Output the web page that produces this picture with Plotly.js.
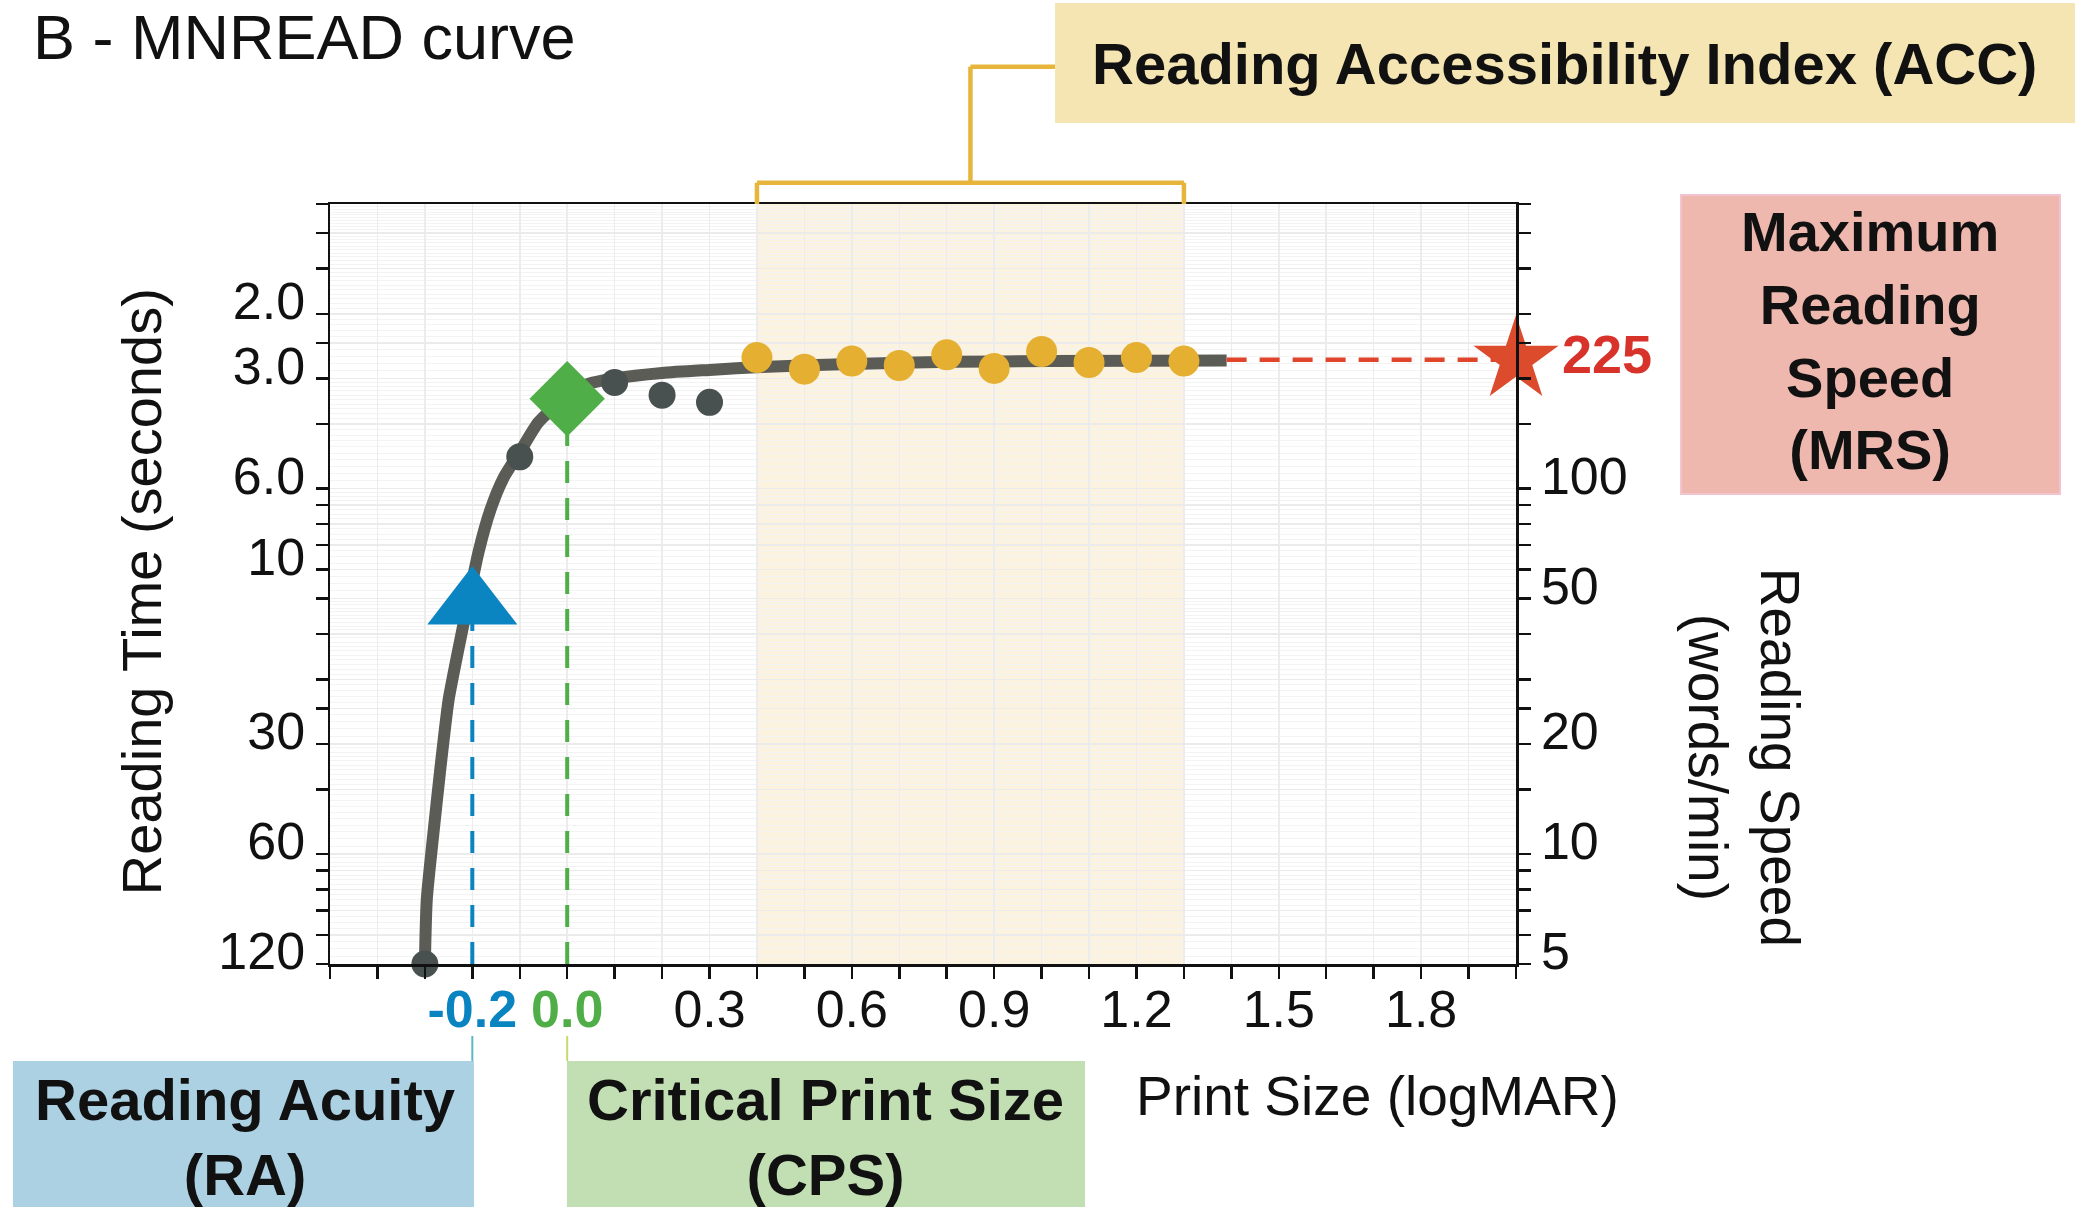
<!DOCTYPE html>
<html>
<head>
<meta charset="utf-8">
<script src="https://cdn.plot.ly/plotly-3.0.1.min.js"></script>
<style>
  html, body { margin: 0; padding: 0; background: #ffffff; }
  #chart { width: 2075px; height: 1209px; }
</style>
</head>
<body>
<div id="chart"></div>
<script>
// ---------------- DATA ----------------
// Fitted MNREAD curve (print size logMAR vs reading speed, words/min)
const curveX = [-0.30, -0.296, -0.282, -0.267, -0.25, -0.234, -0.219, -0.187, -0.162, -0.134, -0.098, -0.062, -0.028, 0.0, 0.043, 0.10, 0.20, 0.30, 0.41, 0.60, 0.81, 1.02, 1.39];
const curveSpeed = [5.0, 7.5, 11.4, 17.3, 26.4, 33.9, 42.3, 66.9, 87.3, 107, 127, 151, 167, 181, 193, 200, 207, 211, 215, 219, 222, 223, 224];

// Measured sentences outside the ACC range
const testX = [-0.3, -0.1, 0.1, 0.2, 0.3];
const testSpeed = [5.0, 122, 195, 180, 172];

// Sentences used for the Reading Accessibility Index (ACC)
const accX = [0.4, 0.5, 0.6, 0.7, 0.8, 0.9, 1.0, 1.1, 1.2, 1.3];
const accSpeed = [228, 212, 223, 217, 232, 213, 237, 221, 228, 223];

// Key parameters
const raX = -0.2;   const raSpeed = 48;    // Reading Acuity
const cpsX = 0.0;   const cpsSpeed = 176;  // Critical Print Size
const mrsX = 2.0;   const mrsSpeed = 225;  // Maximum Reading Speed
const mrsLabel = '225';

// Axis ticks
const xTickVals = [-0.5, -0.4, -0.3, -0.2, -0.1, 0.0, 0.1, 0.2, 0.3, 0.4, 0.5, 0.6, 0.7, 0.8, 0.9, 1.0, 1.1, 1.2, 1.3, 1.4, 1.5, 1.6, 1.7, 1.8, 1.9, 2.0];
const xLabelVals = [-0.2, 0.0, 0.3, 0.6, 0.9, 1.2, 1.5, 1.8];
const xLabelText = ['-0.2', '0.0', '0.3', '0.6', '0.9', '1.2', '1.5', '1.8'];

const speedTickVals = [600, 500, 400, 300, 250, 200, 150, 100, 90, 80, 70, 60, 50, 40, 30, 25, 20, 15, 10, 9, 8, 7, 6, 5];
const timeLabelSeconds = [2, 3, 6, 10, 30, 60, 120];
const timeLabelText = ['2.0', '3.0', '6.0', '10', '30', '60', '120'];
const speedLabelVals = [100, 50, 20, 10, 5];
const speedRange = [5, 600];
const wordsTimesSixty = 600; // 10 standard words per sentence -> speed = 600 / seconds

// ---------------- BUILD ----------------
const FONT = '"Liberation Sans", Arial, Helvetica, sans-serif';
const near = (a, b) => Math.abs(a - b) < 1e-6;

const xTickText = xTickVals.map(v => {
  const i = xLabelVals.findIndex(l => near(l, v));
  if (i < 0) return '';
  if (near(v, raX)) return '<span style="color:#0a84c0"><b>' + xLabelText[i] + '</b></span>';
  if (near(v, cpsX)) return '<span style="color:#4fae47"><b>' + xLabelText[i] + '</b></span>';
  return xLabelText[i];
});
const timeLabelSpeeds = timeLabelSeconds.map(t => wordsTimesSixty / t);
const leftTickText = speedTickVals.map(v => {
  const i = timeLabelSpeeds.findIndex(s => near(s, v));
  return i < 0 ? '' : timeLabelText[i];
});
const rightTickText = speedTickVals.map(v => speedLabelVals.some(s => near(s, v)) ? String(v) : '');

// faint dense horizontal grid (log-paper look)
const minorVals = [];
[[5, 10, 0.25], [10, 20, 0.5], [20, 50, 1], [50, 100, 2.5], [100, 200, 5], [200, 600, 10]].forEach(([a, b, s]) => {
  for (let v = a; v < b - 1e-9; v += s) minorVals.push(+v.toFixed(3));
});

const yRangeLog = [Math.log10(speedRange[0]) - 1e-6, Math.log10(speedRange[1]) + 1e-6];
const curveEndX = curveX[curveX.length - 1];

const traces = [
  { x: curveX, y: curveSpeed, mode: 'lines', line: { color: '#5c5c56', width: 12, shape: 'spline', smoothing: 0.6 }, hoverinfo: 'skip' },
  { x: [raX, raX], y: [speedRange[0], raSpeed], mode: 'lines', line: { color: '#0a84c0', width: 4, dash: '22px,15px' }, hoverinfo: 'skip' },
  { x: [cpsX, cpsX], y: [speedRange[0], cpsSpeed], mode: 'lines', line: { color: '#4fae47', width: 4, dash: '22px,15px' }, hoverinfo: 'skip' },
  { x: [curveEndX, mrsX], y: [mrsSpeed, mrsSpeed], mode: 'lines', line: { color: '#e0452c', width: 4.5, dash: '20px,13px' }, hoverinfo: 'skip' },
  { x: testX, y: testSpeed, mode: 'markers', marker: { color: '#495150', size: 27 }, cliponaxis: false },
  { x: accX, y: accSpeed, mode: 'markers', marker: { color: '#e5b032', size: 31 }, cliponaxis: false },
  { x: [cpsX], y: [cpsSpeed], mode: 'markers', marker: { color: '#4fae47', size: 58, symbol: 'diamond' }, cliponaxis: false },
  { x: [raX], y: [raSpeed], mode: 'markers', marker: { color: '#0a85c1', size: 78, symbol: 'triangle-up' }, cliponaxis: false },
  { x: [mrsX], y: [mrsSpeed], yaxis: 'y2', mode: 'markers', marker: { color: '#dd4b2d', size: 64, symbol: 'star' }, cliponaxis: false }
];

// paper helpers
const xToPaper = x => (x + 0.5) / 2.5;
const accMin = Math.min(...accX), accMax = Math.max(...accX);
const accMid = (accMin + accMax) / 2;
const bracketY = 1.028, riserTop = 1.1807;
const GOLD = '#e8b53c';

const shapes = [
  { type: 'rect', xref: 'x', yref: 'paper', x0: accMin, x1: accMax, y0: 0, y1: 1, fillcolor: '#fbf3df', line: { width: 0 }, layer: 'below' },
  // ACC bracket
  { type: 'line', xref: 'x', yref: 'paper', x0: accMin, x1: accMin, y0: 1.0, y1: bracketY, line: { color: GOLD, width: 4.5 } },
  { type: 'line', xref: 'x', yref: 'paper', x0: accMax, x1: accMax, y0: 1.0, y1: bracketY, line: { color: GOLD, width: 4.5 } },
  { type: 'line', xref: 'x', yref: 'paper', x0: accMin, x1: accMax, y0: bracketY, y1: bracketY, line: { color: GOLD, width: 4.5 } },
  { type: 'line', xref: 'x', yref: 'paper', x0: accMid, x1: accMid, y0: bracketY, y1: riserTop, line: { color: GOLD, width: 4.5 } },
  { type: 'line', xref: 'paper', yref: 'paper', x0: xToPaper(accMid), x1: 0.6113, y0: riserTop, y1: riserTop, line: { color: GOLD, width: 4.5 } },
  // label boxes
  { type: 'rect', xref: 'paper', yref: 'paper', x0: 0.6113, x1: 1.4713, y0: 1.1066, y1: 1.2645, fillcolor: '#f4e5b2', line: { width: 0 } },
  { type: 'rect', xref: 'paper', yref: 'paper', x0: 1.1391, x1: 1.4587, y0: 0.6184, y1: 1.0118, fillcolor: '#efb8ae', line: { color: '#f3c3cf', width: 2 } },
  { type: 'rect', xref: 'paper', yref: 'paper', x0: -0.2673, x1: 0.1214, y0: -0.3197, y1: -0.1276, fillcolor: '#acd1e3', line: { width: 0 } },
  { type: 'rect', xref: 'paper', yref: 'paper', x0: 0.1998, x1: 0.6366, y0: -0.3197, y1: -0.1276, fillcolor: '#c2deb3', line: { width: 0 } },
  // connectors to RA / CPS boxes
  { type: 'line', xref: 'x', yref: 'paper', x0: raX, x1: raX, y0: -0.0947, y1: -0.1276, line: { color: '#5db7c9', width: 2 } },
  { type: 'line', xref: 'x', yref: 'paper', x0: cpsX, x1: cpsX, y0: -0.0947, y1: -0.1276, line: { color: '#c3da6e', width: 2 } }
];

const ann = (text, x, y, size, extra) => Object.assign({ text: text, x: x, y: y, xref: 'paper', yref: 'paper', showarrow: false, xanchor: 'center', yanchor: 'middle', font: { family: FONT, size: size, color: '#111111' } }, extra || {});

const annotations = [
  ann('<b>Reading Accessibility Index (ACC)</b>', 1.0413, 1.1855, 58),
  ann('<b>Maximum<br>Reading<br>Speed<br>(MRS)</b>', 1.2985, 0.8204, 56),
  ann('<b>Reading Acuity<br>(RA)</b>', -0.0717, -0.227, 58),
  ann('<b>Critical Print Size<br>(CPS)</b>', 0.4182, -0.227, 58),
  ann('Reading Time (seconds)', -0.1589, 0.490, 56, { textangle: -90 }),
  ann('Reading Speed<br>(words/min)', 1.1918, 0.272, 55, { textangle: 90 }),
  ann('Print Size (logMAR)', 0.8836, -0.1737, 55),
  { text: '<b>' + mrsLabel + '</b>', x: mrsX, y: Math.log10(mrsSpeed), xref: 'x', yref: 'y', showarrow: false, xanchor: 'left', yanchor: 'middle', xshift: 44, yshift: 6, font: { family: FONT, size: 54, color: '#d8332a' } }
];

const layout = {
  width: 2075, height: 1209,
  margin: { l: 330, r: 559, t: 204, b: 245, pad: 0 },
  paper_bgcolor: '#ffffff', plot_bgcolor: '#ffffff',
  showlegend: false,
  font: { family: FONT, size: 52, color: '#111111' },
  title: { text: 'B - MNREAD curve', xref: 'container', yref: 'container', x: 0.0159, xanchor: 'left', y: 0.9694, yanchor: 'middle', font: { family: FONT, size: 63, color: '#111111' } },
  xaxis: {
    range: [-0.5, 2.0], tickmode: 'array', tickvals: xTickVals, ticktext: xTickText,
    ticks: 'outside', ticklen: 12, tickwidth: 2.5, tickcolor: '#111',
    showline: true, linecolor: '#111', linewidth: 2.5, mirror: true,
    showgrid: true, gridcolor: '#ececec', gridwidth: 1.5, zeroline: false,
    ticklabelstandoff: -14,
    tickfont: { family: FONT, size: 52, color: '#111' }, tickangle: 0
  },
  yaxis: {
    type: 'log', range: yRangeLog, tickmode: 'array', tickvals: speedTickVals, ticktext: leftTickText,
    ticks: 'outside', ticklen: 12, tickwidth: 2.5, tickcolor: '#111',
    showline: true, linecolor: '#111', linewidth: 2.5,
    showgrid: true, gridcolor: '#ebebeb', gridwidth: 1.5, zeroline: false,
    minor: { tickvals: minorVals, showgrid: true, gridcolor: '#f3f3f3', gridwidth: 1, ticks: '' },
    ticklabelshift: -13,
    tickfont: { family: FONT, size: 52, color: '#111' }
  },
  yaxis2: {
    type: 'log', range: yRangeLog, overlaying: 'y', side: 'right', tickmode: 'array', tickvals: speedTickVals, ticktext: rightTickText,
    ticks: 'outside', ticklen: 12, tickwidth: 2.5, tickcolor: '#111',
    showline: true, linecolor: '#111', linewidth: 2.5,
    showgrid: false, zeroline: false, ticklabelshift: -13,
    tickfont: { family: FONT, size: 52, color: '#111' }
  },
  shapes: shapes,
  annotations: annotations
};

Plotly.newPlot('chart', traces, layout, { displayModeBar: false, staticPlot: true });
</script>
</body>
</html>
